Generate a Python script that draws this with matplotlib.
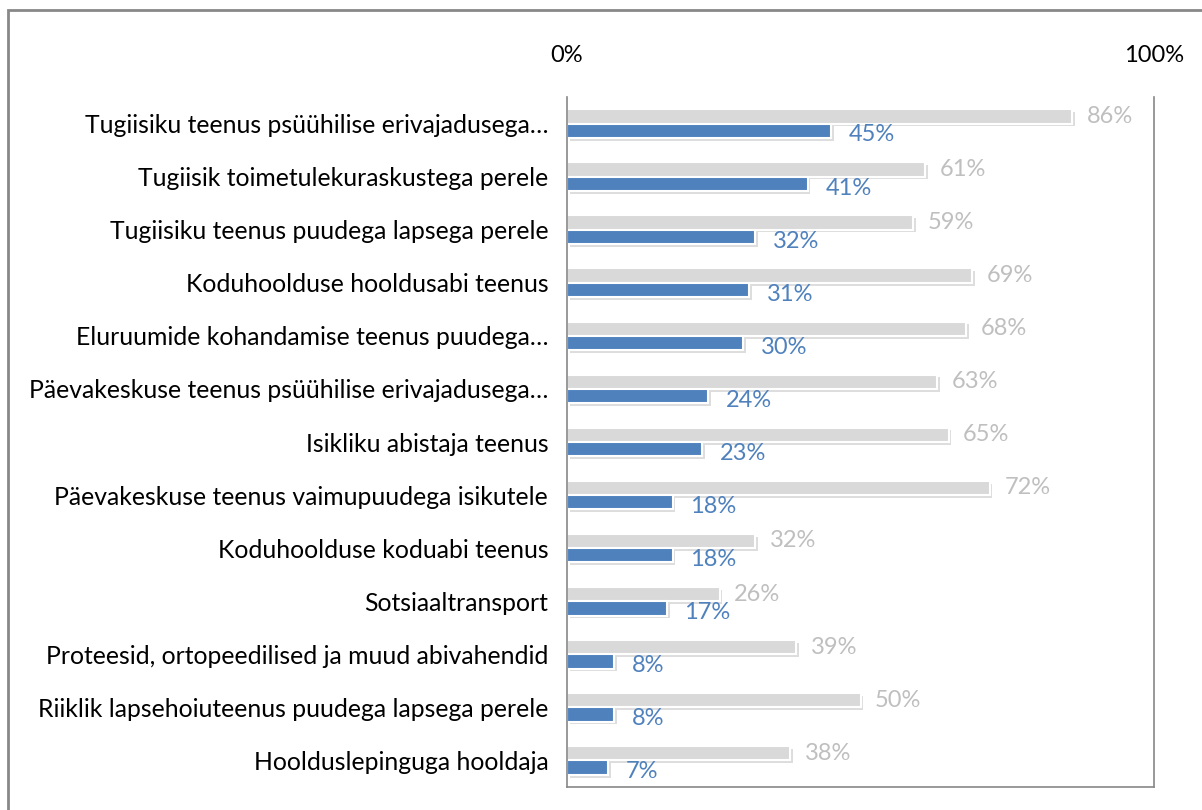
import numpy as np
import matplotlib.pyplot as plt
from matplotlib import patheffects as pe
from matplotlib.patches import Rectangle
from matplotlib.ticker import FuncFormatter

categories = [
    'Tugiisiku teenus psüühilise erivajadusega…',
    'Tugiisik toimetulekuraskustega perele',
    'Tugiisiku teenus puudega lapsega perele',
    'Koduhoolduse hooldusabi teenus',
    'Eluruumide kohandamise teenus puudega…',
    'Päevakeskuse teenus psüühilise erivajadusega…',
    'Isikliku abistaja teenus',
    'Päevakeskuse teenus vaimupuudega isikutele',
    'Koduhoolduse koduabi teenus',
    'Sotsiaaltransport',
    'Proteesid, ortopeedilised ja muud abivahendid',
    'Riiklik lapsehoiuteenus puudega lapsega perele',
    'Hoolduslepinguga hooldaja',
]
grey_vals = [86, 61, 59, 69, 68, 63, 65, 72, 32, 26, 39, 50, 38]
blue_vals = [45, 41, 32, 31, 30, 24, 23, 18, 18, 17, 8, 8, 7]

plt.rcParams['font.family'] = ['Lato', 'DejaVu Sans']

fig = plt.figure(figsize=(12.02, 8.10), dpi=100)
ax = fig.add_axes([567 / 1202, 1 - 787 / 810, (1154 - 567) / 1202, (787 - 97) / 810])

y = np.arange(len(categories))
h = 0.27
shadow = [pe.SimplePatchShadow(offset=(2, -2), shadow_rgbFace='#909090', alpha=0.3), pe.Normal()]

gb = ax.barh(y - h / 2, np.array(grey_vals) / 100, height=h, color='#D9D9D9',
             edgecolor='white', linewidth=1.5)
bb = ax.barh(y + h / 2, np.array(blue_vals) / 100, height=h, color='#4F81BD',
             edgecolor='white', linewidth=1.5)
for b in list(gb) + list(bb):
    b.set_path_effects(shadow)

for i in range(len(categories)):
    ax.text(grey_vals[i] / 100 + 0.025, y[i] - h / 2, f'{grey_vals[i]}%',
            va='center', ha='left', color='#BFBFBF', fontsize=17)
    ax.text(blue_vals[i] / 100 + 0.03, y[i] + h / 2 + 0.08, f'{blue_vals[i]}%',
            va='center', ha='left', color='#4F81BD', fontsize=17)

ax.set_xlim(0, 1)
ax.set_ylim(len(categories) - 0.5, -0.5)
ax.set_yticks(y)
ax.set_yticklabels(categories, fontsize=17.8)
ax.set_xticks([0, 1])
ax.xaxis.set_major_formatter(FuncFormatter(lambda v, p: f'{v:.0%}'))
ax.xaxis.tick_top()
ax.tick_params(axis='x', length=0, pad=22.5, labelsize=17)
ax.tick_params(axis='y', length=0, pad=13.5)
for s in ['left', 'right', 'bottom']:
    ax.spines[s].set_color('#888888')
    ax.spines[s].set_linewidth(1.2)
ax.spines['top'].set_visible(False)

fig.patches.append(Rectangle((8 / 1202, -0.05), 1.2, 1 - 10 / 810 + 0.05,
                             transform=fig.transFigure, fill=False,
                             edgecolor='#888888', linewidth=2))

fig.savefig('out.png', dpi=100)
